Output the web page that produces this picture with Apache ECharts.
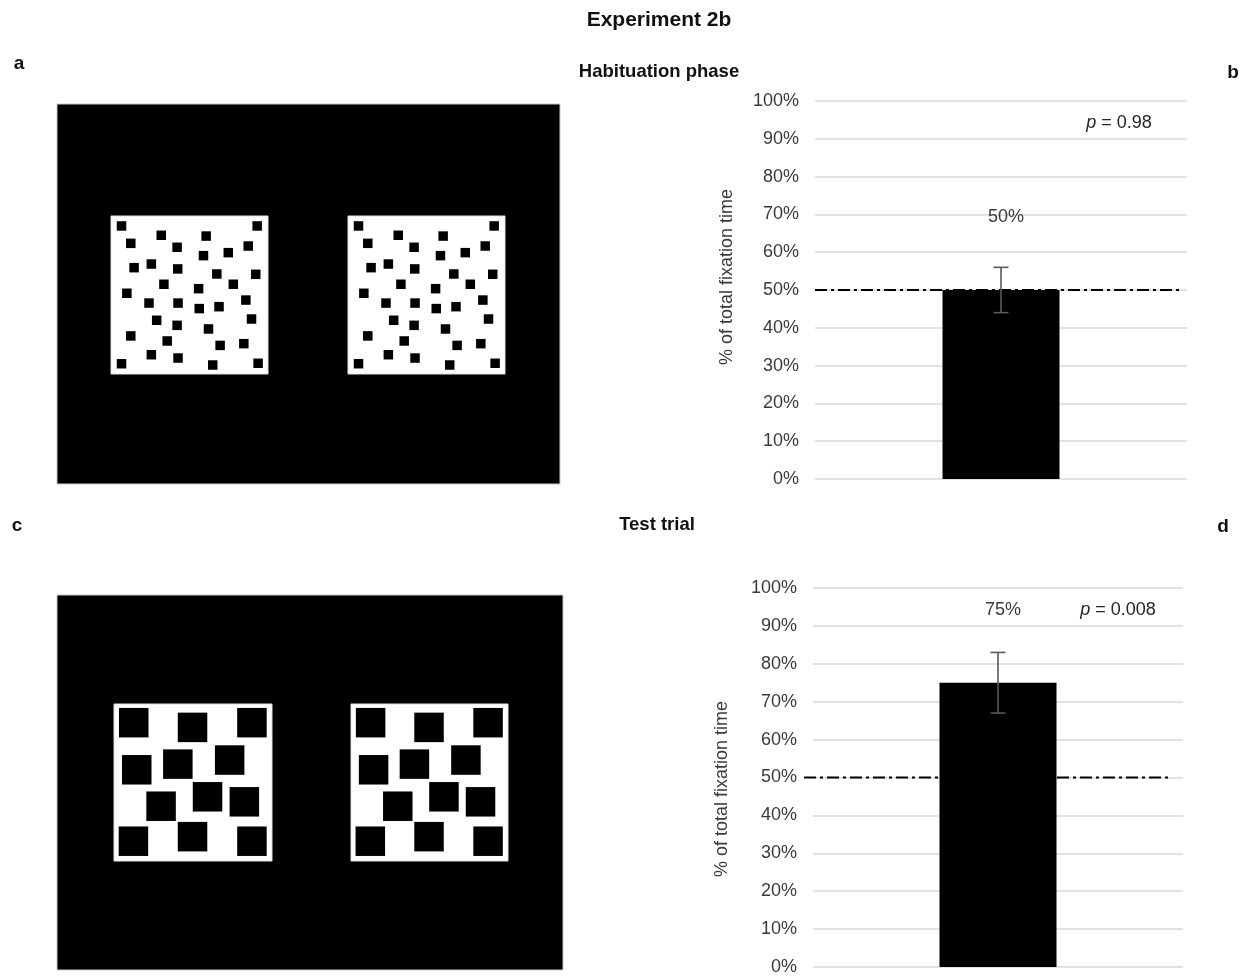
<!DOCTYPE html>
<html>
<head>
<meta charset="utf-8">
<title>Experiment 2b</title>
<script src="https://cdn.jsdelivr.net/npm/echarts@6/dist/echarts.min.js"></script>
<style>
  html, body { margin: 0; padding: 0; background: #fff; }
  #chart { width: 1247px; height: 978px; }
</style>
</head>
<body>
<div id="chart"></div>
<script>
// Stimulus dot positions, relative to the white square (0..1, y measured from the top)
const habituationDots = [
  [0.067, 0.063], [0.931, 0.063], [0.320, 0.122], [0.606, 0.127], [0.126, 0.173],
  [0.421, 0.198], [0.874, 0.190], [0.747, 0.232], [0.589, 0.251], [0.147, 0.327],
  [0.257, 0.304], [0.425, 0.335], [0.674, 0.367], [0.922, 0.369], [0.337, 0.432],
  [0.779, 0.432], [0.558, 0.460], [0.101, 0.489], [0.242, 0.551], [0.427, 0.551],
  [0.562, 0.586], [0.688, 0.574], [0.859, 0.532], [0.291, 0.660], [0.895, 0.652],
  [0.421, 0.692], [0.621, 0.715], [0.126, 0.759], [0.358, 0.791], [0.695, 0.819],
  [0.846, 0.808], [0.257, 0.878], [0.427, 0.899], [0.067, 0.935], [0.648, 0.943],
  [0.937, 0.932]
];
const testDots = [
  [0.125, 0.119], [0.497, 0.149], [0.873, 0.119], [0.144, 0.419], [0.404, 0.383],
  [0.732, 0.357], [0.592, 0.591], [0.825, 0.623], [0.298, 0.651], [0.123, 0.874],
  [0.497, 0.845], [0.873, 0.874]
];

// Fixation results
const phases = ['Habituation phase', 'Test trial'];
const panelLetters = ['a', 'b', 'c', 'd'];
const meanFixation = [0.50, 0.75];
const errorLow = [0.44, 0.67];
const errorHigh = [0.56, 0.83];
const chanceLevel = 0.5;
const pValues = ['0.98', '0.008'];
const yTickMin = 0, yTickMax = 1, yTickStep = 0.1;

const FONT = "'Liberation Sans', Arial, Helvetica, sans-serif";
const TEXT = '#3a3a3a';

// Layout of the two stimulus displays
const stimFrames = [
  { x: 57, y: 104, w: 503, h: 380, squares: [[111, 216, 157, 158], [348, 216, 157, 158]], dots: habituationDots, size: 9.5 },
  { x: 57, y: 595, w: 506, h: 375, squares: [[114, 704, 158, 157], [351, 704, 157, 157]], dots: testDots, size: 29.5 }
];
// Layout of the two bar charts
const barGrids = [
  { left: 815, top: 101, width: 372, height: 378, nameX: 727, nameY: 277, pX: 1119, pY: 123, lineFrom: 0, lineTo: -4 },
  { left: 813, top: 588, width: 370, height: 379, nameX: 722, nameY: 789, pX: 1118, pY: 610, lineFrom: -9, lineTo: -11 }
];

const pct = v => Math.round(v * 100) + '%';

const grids = [], xAxes = [], yAxes = [], series = [], graphics = [];

// Stimulus panels: black frame, white squares, dots as scatter marks
stimFrames.forEach(f => {
  graphics.push({
    type: 'rect', z: -10,
    shape: { x: f.x, y: f.y, width: f.w, height: f.h },
    style: { fill: '#000', stroke: '#c8c8c8', lineWidth: 1 }
  });
  f.squares.forEach(sq => {
    graphics.push({
      type: 'rect', z: -9,
      shape: { x: sq[0], y: sq[1], width: sq[2], height: sq[3] },
      style: { fill: '#fff', stroke: '#e0e0e0', lineWidth: 1 }
    });
    const gi = grids.length;
    grids.push({ left: sq[0], top: sq[1], width: sq[2], height: sq[3] });
    xAxes.push({ gridIndex: gi, type: 'value', min: 0, max: 1, show: false });
    yAxes.push({ gridIndex: gi, type: 'value', min: 0, max: 1, inverse: true, show: false });
    series.push({
      type: 'scatter', xAxisIndex: gi, yAxisIndex: gi,
      symbol: 'rect', symbolSize: f.size, silent: true,
      itemStyle: { color: '#000', opacity: 1 },
      data: f.dots
    });
  });
});

// Bar charts
barGrids.forEach((g, k) => {
  const gi = grids.length;
  grids.push({ left: g.left, top: g.top, width: g.width, height: g.height });
  xAxes.push({
    gridIndex: gi, type: 'category', data: [phases[k]],
    axisLine: { show: false }, axisTick: { show: false }, axisLabel: { show: false }
  });
  yAxes.push({
    gridIndex: gi, type: 'value', min: yTickMin, max: yTickMax, interval: yTickStep,
    axisLine: { show: false }, axisTick: { show: false },
    axisLabel: { formatter: pct, fontSize: 18, color: TEXT, fontFamily: FONT, margin: 16 },
    splitLine: { lineStyle: { color: '#d9d9d9', width: 1.5 } }
  });
  // chance-level reference line
  series.push({
    type: 'custom', xAxisIndex: gi, yAxisIndex: gi, z: 1, silent: true,
    data: [[0, chanceLevel]],
    encode: { x: 0, y: 1 },
    renderItem: (params, api) => {
      const y = api.coord([0, api.value(1)])[1];
      const cs = params.coordSys;
      return {
        type: 'line',
        shape: { x1: cs.x + g.lineFrom, y1: y, x2: cs.x + cs.width + g.lineTo, y2: y },
        style: { stroke: '#000', lineWidth: 2, lineDash: [12, 4, 3, 4] }
      };
    }
  });
  series.push({
    type: 'bar', xAxisIndex: gi, yAxisIndex: gi, z: 2,
    barWidth: 117,
    itemStyle: { color: '#000' },
    label: {
      show: true, position: 'top', distance: 64, offset: [5, 0],
      formatter: p => pct(p.value), fontSize: 18, color: TEXT, fontFamily: FONT
    },
    data: [meanFixation[k]]
  });
  // error bar
  series.push({
    type: 'custom', xAxisIndex: gi, yAxisIndex: gi, z: 3, silent: true,
    data: [[0, errorLow[k], errorHigh[k]]],
    encode: { x: 0, y: [1, 2] },
    renderItem: (params, api) => {
      const lo = api.coord([api.value(0), api.value(1)]);
      const hi = api.coord([api.value(0), api.value(2)]);
      const hw = 7.5;
      const st = { stroke: '#595959', lineWidth: 1.6 };
      return {
        type: 'group',
        children: [
          { type: 'line', shape: { x1: lo[0], y1: lo[1], x2: hi[0], y2: hi[1] }, style: st },
          { type: 'line', shape: { x1: lo[0] - hw, y1: lo[1], x2: lo[0] + hw, y2: lo[1] }, style: st },
          { type: 'line', shape: { x1: hi[0] - hw, y1: hi[1], x2: hi[0] + hw, y2: hi[1] }, style: st }
        ]
      };
    }
  });
  // axis title
  graphics.push({
    type: 'text', x: g.nameX, y: g.nameY, rotation: Math.PI / 2,
    style: {
      text: '% of total fixation time', font: '18px ' + FONT, fill: TEXT,
      align: 'center', verticalAlign: 'middle'
    }
  });
  // p value
  graphics.push({
    type: 'text', x: g.pX, y: g.pY,
    style: {
      text: '{i|p} = ' + pValues[k],
      font: '18px ' + FONT, fill: '#262626',
      align: 'center', verticalAlign: 'middle',
      rich: { i: { fontStyle: 'italic', fontSize: 18, fontFamily: FONT, fill: '#262626' } }
    }
  });
});

// Headings and panel letters
const headings = [
  { text: 'Experiment 2b', x: 659, y: 20, size: 21 },
  { text: phases[0], x: 659, y: 72, size: 18.5 },
  { text: phases[1], x: 657, y: 525, size: 18.5 },
  { text: panelLetters[0], x: 19, y: 64, size: 19 },
  { text: panelLetters[1], x: 1233, y: 73, size: 19 },
  { text: panelLetters[2], x: 17, y: 526, size: 19 },
  { text: panelLetters[3], x: 1223, y: 527, size: 19 }
];
headings.forEach(h => {
  graphics.push({
    type: 'text', x: h.x, y: h.y,
    style: {
      text: h.text, font: 'bold ' + h.size + 'px ' + FONT, fill: '#111',
      align: 'center', verticalAlign: 'middle'
    }
  });
});

const chart = echarts.init(document.getElementById('chart'), null, { renderer: 'canvas' });
chart.setOption({
  animation: false,
  backgroundColor: '#fff',
  grid: grids,
  xAxis: xAxes,
  yAxis: yAxes,
  series: series,
  graphic: { elements: graphics }
});
</script>
</body>
</html>
